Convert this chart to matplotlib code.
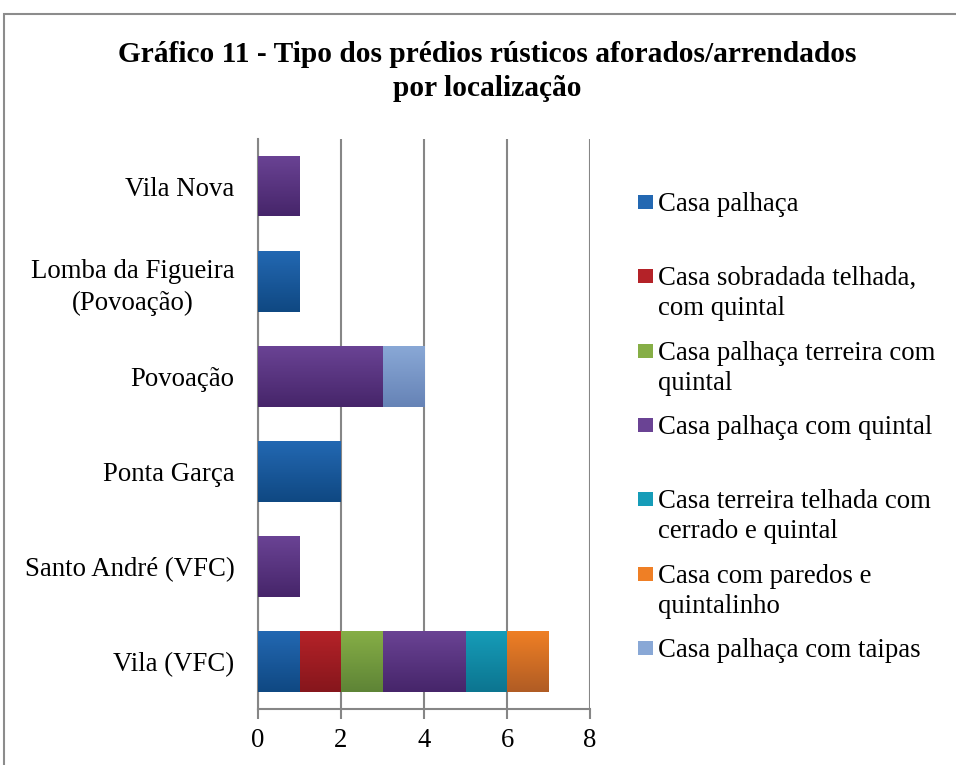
import matplotlib
matplotlib.use("Agg")
import matplotlib.pyplot as plt
import numpy as np
from matplotlib.colors import LinearSegmentedColormap, to_rgb
from matplotlib.patches import Rectangle

plt.rcParams['font.family'] = ['Liberation Serif', 'DejaVu Serif']

title_lines = ["Gráfico 11 - Tipo dos prédios rústicos aforados/arrendados",
               "por localização"]
locations = ["Vila (VFC)", "Santo André (VFC)", "Ponta Garça", "Povoação",
             "Lomba da Figueira\n(Povoação)", "Vila Nova"]
series_names = ["Casa palhaça", "Casa sobradada telhada,\ncom quintal",
                "Casa palhaça terreira com\nquintal", "Casa palhaça com quintal",
                "Casa terreira telhada com\ncerrado e quintal", "Casa com paredos e\nquintalinho",
                "Casa palhaça com taipas"]
# values per series, ordered like locations
casa_palhaca = [1, 0, 2, 0, 1, 0]
casa_sobradada = [1, 0, 0, 0, 0, 0]
casa_terreira = [1, 0, 0, 0, 0, 0]
casa_quintal = [2, 1, 0, 3, 0, 1]
casa_terreira_telhada = [1, 0, 0, 0, 0, 0]
casa_paredos = [1, 0, 0, 0, 0, 0]
casa_taipas = [0, 0, 0, 1, 0, 0]
series_values = [casa_palhaca, casa_sobradada, casa_terreira, casa_quintal,
                 casa_terreira_telhada, casa_paredos, casa_taipas]
x_ticks = [0, 2, 4, 6, 8]

colors_top = ["#2368B2", "#B42228", "#86AE46", "#6A4394", "#169CB8", "#EF7F25", "#89A8D6"]
colors_bot = ["#0F4882", "#86161C", "#5E8436", "#46256A", "#0C7590", "#B05C24", "#6683B6"]

FS = 19.3
fig = plt.figure(figsize=(9.56, 7.65), dpi=100)
W, H = 956, 765

# outer frame
fig.patches.append(Rectangle((4 / W, -0.01), 1.1, 1 - 14 / H + 0.01, transform=fig.transFigure,
                             fill=False, edgecolor="#8C8C8C", linewidth=1.5))

ax = fig.add_axes([258 / W, 1 - 709 / H, (590 - 258) / W, (709 - 138.5) / H])
ypos = np.arange(len(locations))
left = np.zeros(len(locations))
bar_h = 0.64
for vals, ct, cb in zip(series_values, colors_top, colors_bot):
    vals = np.array(vals, dtype=float)
    bars = ax.barh(ypos, vals, left=left, height=bar_h, color=ct, linewidth=0, zorder=3)
    cmap = LinearSegmentedColormap.from_list("g", [to_rgb(cb), to_rgb(ct)])
    for b, v in zip(bars, vals):
        if v <= 0:
            continue
        x0, y0 = b.get_x(), b.get_y()
        w, h = b.get_width(), b.get_height()
        grad = np.linspace(0, 1, 100).reshape(-1, 1)
        im = ax.imshow(grad, cmap=cmap, aspect="auto", origin="upper",
                       extent=[x0, x0 + w, y0 + h, y0], zorder=3.5)
        im.set_clip_path(b)
    left += vals

ax.set_xlim(0, 8)
ax.set_ylim(-0.5, len(locations) - 0.5)
ax.set_xticks(x_ticks)
ax.set_xticklabels([str(t) for t in x_ticks], fontsize=FS)
ax.set_yticks(ypos)
ax.set_yticklabels(locations, fontsize=FS, ha="right", multialignment="center",
                   linespacing=1.33)
ax.tick_params(axis="y", length=0, pad=17)
ax.tick_params(axis="x", length=7, width=1.5, color="#868686", pad=7)
ax.grid(axis="x", color="#868686", linewidth=1.5, zorder=0)
ax.set_axisbelow(True)
for s in ["top", "right"]:
    ax.spines[s].set_visible(False)
for s in ["left", "bottom"]:
    ax.spines[s].set_color("#868686")
    ax.spines[s].set_linewidth(1.5)
ax.set_facecolor("none")

for line, yb in zip(title_lines, [62, 96]):
    fig.text(487 / W, 1 - yb / H, line, ha="center", va="baseline", fontsize=21.2,
             fontweight="bold")

# legend
baselines = np.linspace(211, 657, len(series_names))
for name, ct, cb, yb in zip(series_names, colors_top, colors_bot, baselines):
    fig.patches.append(Rectangle((638 / W, 1 - (yb - 2) / H), 15 / W, 14 / H,
                                 transform=fig.transFigure, facecolor=ct, edgecolor="none"))
    for i, part in enumerate(name.split("\n")):
        fig.text(658 / W, 1 - (yb + 30 * i) / H, part, ha="left", va="baseline",
                 fontsize=FS)

fig.savefig("out.png", dpi=100)
